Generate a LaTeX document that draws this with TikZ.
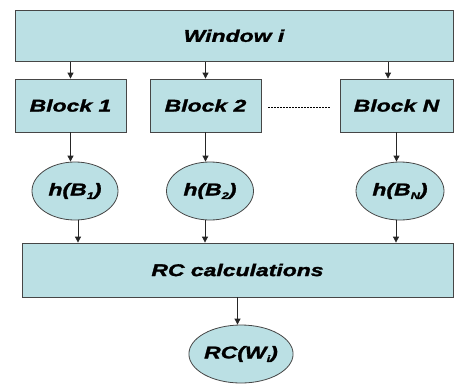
\documentclass[tikz,border=0pt]{standalone}
\usepackage{fontspec}
\setmainfont{Liberation Sans}[FakeStretch=1.35,FakeBold=1.6]
\usetikzlibrary{arrows.meta,shapes.geometric}
\definecolor{boxfill}{RGB}{187,224,228}
\definecolor{boxline}{RGB}{70,70,70}
\newcommand{\sbs}[1]{\raisebox{-0.4ex}{\fontsize{9.5}{10}\selectfont #1}}
\begin{document}
\begin{tikzpicture}[x=1pt,y=-1pt,
  every node/.style={font=\fontsize{17}{18}\selectfont\bfseries\itshape},
  boxnode/.style={draw=boxline,fill=boxfill,line width=0.8pt,rectangle,inner sep=0pt},
  ellnode/.style={draw=boxline,fill=boxfill,line width=0.8pt,ellipse,inner sep=0pt,minimum width=86pt,minimum height=58pt},
  arr/.style={draw=black!85,line width=0.8pt,-{Triangle[length=6pt,width=6pt]}}]
\useasboundingbox (0,0) rectangle (454,383);
\node[boxnode,minimum width=438pt,minimum height=51.5pt] (win) at (234,35.75) {Window i};
\node[boxnode,minimum width=111pt,minimum height=53pt] (b1) at (70.5,105.5) {Block 1};
\node[boxnode,minimum width=111pt,minimum height=53pt] (b2) at (205.5,105.5) {Block 2};
\node[boxnode,minimum width=113pt,minimum height=53pt] (bn) at (396.5,105.5) {Block N};
\coordinate (d1) at (268,107.5);
\coordinate (d2) at (330,107.5);
\draw[line width=1.6pt,dash pattern=on 1.7pt off 1.3pt] (d1) -- (d2);
\node[ellnode] (h1) at (75,191) {h(B\sbs{1})};
\node[ellnode,minimum width=87pt] (h2) at (210,191) {h(B\sbs{2})};
\node[ellnode,minimum width=88pt] (hn) at (400,191) {h(B\sbs{N})};
\node[boxnode,minimum width=431pt,minimum height=54pt] (rc) at (237.5,270) {RC calculations};
\node[ellnode] (rcw) at (241,354) {RC(W\sbs{i})};
% window -> blocks
\draw[arr] (win.south -| b1.north) -- (b1.north);
\draw[arr] (win.south -| b2.north) -- (b2.north);
\draw[arr] ([xshift=-8.5pt]win.south -| bn.north) -- ([xshift=-8.5pt]bn.north);
% blocks -> hashes
\draw[arr] (b1.south) -- (b1.south |- h1.north);
\draw[arr] (b2.south) -- (b2.south |- h2.north);
\draw[arr] (bn.south) -- (bn.south |- hn.north);
% hashes -> RC
\draw[arr] ([xshift=3pt]h1.south) -- ([xshift=3pt]h1.south |- rc.north);
\draw[arr] ([xshift=-5pt]h2.south) -- ([xshift=-5pt]h2.south |- rc.north);
\draw[arr] ([xshift=-4pt]hn.south) -- ([xshift=-4pt]hn.south |- rc.north);
% RC -> result
\draw[arr] (rc.south) -- (rc.south |- rcw.north);
\end{tikzpicture}
\end{document}
